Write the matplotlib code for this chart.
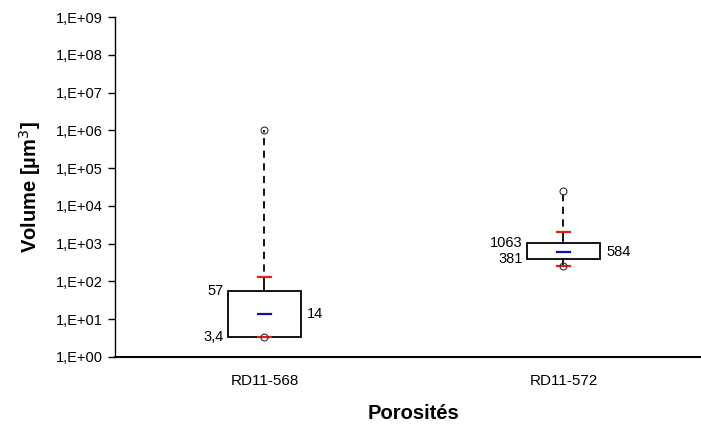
import numpy as np
import matplotlib.pyplot as plt
from matplotlib.patches import Rectangle
from matplotlib.ticker import FixedLocator, NullLocator

plt.rcParams['font.family'] = ['Liberation Sans', 'DejaVu Sans']

# Data
categories = ['RD11-568', 'RD11-572']
q1 = [3.4, 381]
q3 = [57, 1063]
mean = [14, 584]
upper_cap = [130, 2000]
lower_cap = [3.4, 260]
max_val = [1.0e6, 25000]
min_val = [3.4, 260]
q1_labels = ['3,4', '381']
q3_labels = ['57', '1063']
mean_labels = ['14', '584']

fig = plt.figure(figsize=(7.01, 4.28), dpi=100)
ax = fig.add_axes([0.164, 0.166, 0.853, 0.794])
ax.set_yscale('log')
ax.set_ylim(1, 1e9)
ax.set_xlim(0, 2)

xs = np.arange(len(categories)) + 0.5
w = 0.247
cap = 0.045

for i, x in enumerate(xs):
    # box
    ax.add_patch(Rectangle((x - w / 2, q1[i]), w, q3[i] - q1[i],
                           fill=False, edgecolor='black', lw=1.3, zorder=3))
    # solid whisker up to the red cap
    ax.plot([x, x], [q3[i], upper_cap[i]], color='black', lw=1.3, zorder=2)
    # dashed line to the max, starting with a gap above the cap
    ax.plot([x, x], [upper_cap[i], max_val[i]], color='black', lw=1.3,
            ls=(4, (4, 3)), zorder=2)
    # lower whisker
    if lower_cap[i] < q1[i]:
        ax.plot([x, x], [lower_cap[i], q1[i]], color='black', lw=1.3, zorder=2)
    # caps
    ax.plot([x - cap / 2, x + cap / 2], [upper_cap[i]] * 2, color='#e0201a', lw=1.6, zorder=4)
    ax.plot([x - cap / 2, x + cap / 2], [lower_cap[i]] * 2, color='#e0201a', lw=1.6, zorder=4)
    # mean
    ax.plot([x - cap / 2, x + cap / 2], [mean[i]] * 2, color='#1010b0', lw=1.6, zorder=4)
    # extreme points
    ax.plot([x, x], [max_val[i], min_val[i]], ls='none', marker='o', ms=5,
            mfc='none', mec='#333333', mew=0.8, zorder=5)
    # labels
    ax.text(x - w / 2 - 0.012, q3[i], q3_labels[i], ha='right', va='center', fontsize=10.5)
    ax.text(x - w / 2 - 0.012, q1[i], q1_labels[i], ha='right', va='center', fontsize=10.5)
    ax.text(x + w / 2 + 0.02, mean[i], mean_labels[i], ha='left', va='center', fontsize=10.5)

ax.yaxis.set_major_locator(FixedLocator([10.0 ** k for k in range(10)]))
ax.yaxis.set_minor_locator(NullLocator())
ax.set_yticklabels(['1,E+%02d' % k for k in range(10)])
ax.set_xticks(xs)
ax.set_xticklabels(categories)
ax.tick_params(axis='x', length=0, pad=12, labelsize=11)
ax.tick_params(axis='y', direction='out', length=5, labelsize=10.5, width=1, pad=4)

for s in ['top', 'right']:
    ax.spines[s].set_visible(False)
ax.spines['left'].set_linewidth(1)
ax.spines['bottom'].set_linewidth(1.5)

ax.set_ylabel('Volume [µm$^3$]', fontsize=14.5, fontweight='bold', labelpad=9)
ax.set_xlabel('Porosités', fontsize=14.5, fontweight='bold', labelpad=12)

fig.savefig('out.png', dpi=100)
